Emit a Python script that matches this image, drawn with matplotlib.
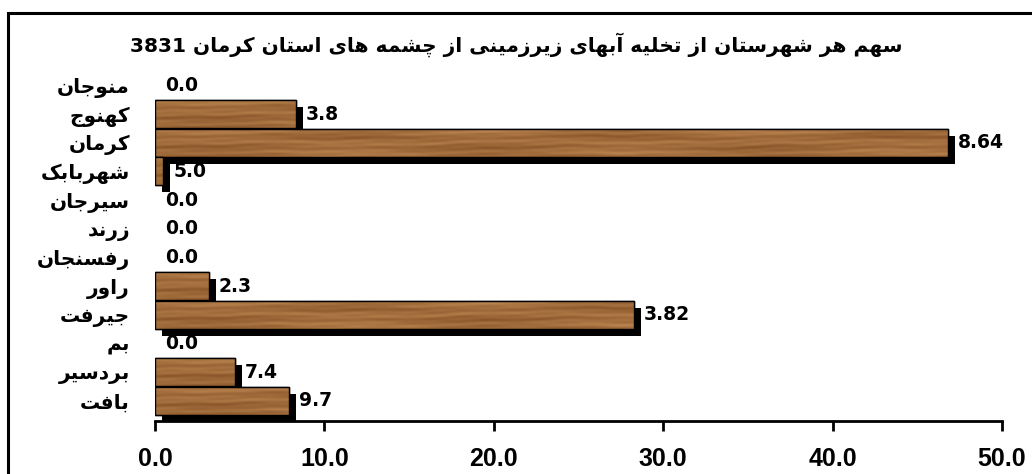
import numpy as np
import matplotlib
matplotlib.use("Agg")
import matplotlib.pyplot as plt
import matplotlib.patheffects as pe
from matplotlib.patches import Rectangle

# ---- data -------------------------------------------------------------
title = "سهم هر شهرستان از تخلیه آبهای زیرزمینی از چشمه های استان کرمان 1383"
counties = ["منوجان", "کهنوج", "کرمان", "شهربابک", "سیرجان", "زرند",
            "رفسنجان", "راور", "جیرفت", "بم", "بردسیر", "بافت"]
shares = [0.0, 8.3, 46.8, 0.5, 0.0, 0.0, 0.0, 3.2, 28.3, 0.0, 4.7, 7.9]
xticks = [0, 10, 20, 30, 40, 50]

# ---- simple Persian shaping (matplotlib draws glyphs left to right) ----
FORMS = {  # isolated, final, initial, medial
    "ا": ("\uFE8D", "\uFE8E", None, None),
    "آ": ("\uFE81", "\uFE82", None, None),
    "ب": ("\uFE8F", "\uFE90", "\uFE91", "\uFE92"),
    "ت": ("\uFE95", "\uFE96", "\uFE97", "\uFE98"),
    "ج": ("\uFE9D", "\uFE9E", "\uFE9F", "\uFEA0"),
    "چ": ("\uFB7A", "\uFB7B", "\uFB7C", "\uFB7D"),
    "خ": ("\uFEA5", "\uFEA6", "\uFEA7", "\uFEA8"),
    "د": ("\uFEA9", "\uFEAA", None, None),
    "ر": ("\uFEAD", "\uFEAE", None, None),
    "ز": ("\uFEAF", "\uFEB0", None, None),
    "س": ("\uFEB1", "\uFEB2", "\uFEB3", "\uFEB4"),
    "ش": ("\uFEB5", "\uFEB6", "\uFEB7", "\uFEB8"),
    "ف": ("\uFED1", "\uFED2", "\uFED3", "\uFED4"),
    "ک": ("\uFB8E", "\uFB8F", "\uFB90", "\uFB91"),
    "ل": ("\uFEDD", "\uFEDE", "\uFEDF", "\uFEE0"),
    "م": ("\uFEE1", "\uFEE2", "\uFEE3", "\uFEE4"),
    "ن": ("\uFEE5", "\uFEE6", "\uFEE7", "\uFEE8"),
    "ه": ("\uFEE9", "\uFEEA", "\uFEEB", "\uFEEC"),
    "و": ("\uFEED", "\uFEEE", None, None),
    "ی": ("\uFBFC", "\uFBFD", "\uFBFE", "\uFBFF"),
}


def rtl(text):
    chars = list(text)
    out = []
    for i, c in enumerate(chars):
        if c not in FORMS:
            out.append(c)
            continue
        iso, fin, ini, med = FORMS[c]
        prev_c = chars[i - 1] if i > 0 else ""
        next_c = chars[i + 1] if i + 1 < len(chars) else ""
        joins_prev = prev_c in FORMS and FORMS[prev_c][2] is not None
        joins_next = ini is not None and next_c in FORMS
        if joins_prev and joins_next:
            out.append(med)
        elif joins_prev:
            out.append(fin)
        elif joins_next:
            out.append(ini)
        else:
            out.append(iso)
    return "".join(out)[::-1]


# ---- wood grain texture: soft horizontal streaks ------------------------
def wood_texture(h=30, w=900):
    yy, xx = np.mgrid[0:h, 0:w].astype(float)
    warp = 0.08 * np.sin(xx / 53.0) + 0.05 * np.sin(xx / 17.0 + 0.7)
    g = (0.45
         + 0.12 * np.sin(2 * np.pi * (yy / 11.0 + warp))
         + 0.08 * np.sin(2 * np.pi * (yy / 5.3 + 2 * warp) + xx / 31.0)
         + 0.12 * np.sin(xx / 47.0 + 0.4) * np.sin(yy / 6.0 + 1.0)
         + 0.06 * np.sin(xx / 9.0) * np.sin(2 * np.pi * yy / 7.0))
    g = np.clip(g, 0, 1)[..., None]
    dark = np.array([128, 76, 34]) / 255
    light = np.array([200, 146, 90]) / 255
    return dark + (light - dark) * g


tex = wood_texture()

# ---- figure -------------------------------------------------------------
fig = plt.figure(figsize=(10.32, 4.74), dpi=100)
ax = fig.add_axes([155 / 1032, 53 / 474, 847 / 1032, 350 / 474])

ypos = np.arange(len(counties))
bars = ax.barh(ypos, shares, height=0.97, color="#A06A38",
               edgecolor="black", linewidth=1.0)
shadow = [pe.SimplePatchShadow(offset=(5.0, -5.0), shadow_rgbFace="black",
                               alpha=1.0), pe.Normal()]
for i, (bar, v) in enumerate(zip(bars, shares)):
    z = 2 + 0.1 * i
    if v <= 0:
        bar.set_visible(False)
        continue
    bar.set_zorder(z)
    bar.set_path_effects(shadow)
    y0, hgt = bar.get_y(), bar.get_height()
    cols = max(2, int(round(tex.shape[1] * v / xticks[-1])))
    ax.imshow(tex[:, :cols], extent=[0, v, y0 + hgt, y0], aspect="auto",
              interpolation="bilinear", zorder=z + 0.03)
    ax.add_patch(Rectangle((0, y0), v, hgt, facecolor="none",
                           edgecolor="black", linewidth=1.0, zorder=z + 0.06))

for y, v in zip(ypos, shares):
    ax.annotate(rtl(f"{v:.1f}"), (v, y), xytext=(7, 0),
                textcoords="offset points", ha="left", va="center",
                fontsize=13.5, fontweight="bold", family="DejaVu Sans",
                zorder=10)

ax.set_xlim(0, xticks[-1])
ax.set_ylim(len(counties) - 1 + 0.7, -0.5)
ax.set_xticks(xticks)
ax.set_xticklabels([f"{t:.1f}" for t in xticks], fontsize=18,
                   fontweight="bold", family="Liberation Sans")
ax.tick_params(axis="x", length=7, width=2, pad=12, direction="out")
ax.set_yticks(ypos)
ax.set_yticklabels([rtl(c) for c in counties], fontsize=14.5,
                   fontweight="bold", family="DejaVu Sans")
ax.tick_params(axis="y", length=0, pad=18)
for side in ("left", "right", "top"):
    ax.spines[side].set_visible(False)
ax.spines["bottom"].set_linewidth(2)
ax.set_facecolor("none")

fig.text(0.5, (474 - 45) / 474, rtl(title), ha="center", va="center",
         fontsize=14.5, fontweight="bold", family="DejaVu Sans")

# outer frame running past the right and bottom edges
fig.patches.append(Rectangle((8 / 1032, -0.2), 1.2, 1.2 - 13 / 474,
                             transform=fig.transFigure, fill=False,
                             edgecolor="black", linewidth=2.2))

fig.savefig("out.png", dpi=100)
